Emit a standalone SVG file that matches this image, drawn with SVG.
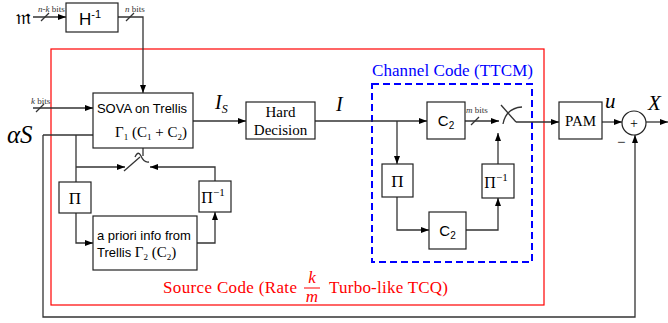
<svg xmlns="http://www.w3.org/2000/svg" width="668" height="323" viewBox="0 0 668 323">
<defs>
<marker id="ah" markerWidth="8" markerHeight="6" refX="8" refY="3" orient="auto" markerUnits="userSpaceOnUse">
<path d="M0,0 L8,3 L0,6 Z" fill="#000"/>
</marker>
<style>
.box{fill:#fff;stroke:#222;stroke-width:1.2}
.ln{fill:none;stroke:#333;stroke-width:1.3}
.a{marker-end:url(#ah)}
.sans{font-family:"Liberation Sans",Arial,sans-serif;fill:#000}
.serif{font-family:"Liberation Serif","Times New Roman",serif;fill:#000}
.it{font-family:"Liberation Serif","Times New Roman",serif;font-style:italic;fill:#000}
.sm{font-family:"Liberation Serif","Times New Roman",serif;font-size:9px;fill:#333}
</style>
</defs>
<rect x="51" y="49" width="493" height="256" fill="none" stroke="#f00" stroke-width="1.2"/>
<rect x="372" y="84" width="160" height="178" fill="none" stroke="#00f" stroke-width="2" stroke-dasharray="7,4"/>
<text x="372" y="76" textLength="161" font-family="Liberation Serif,serif" font-size="17" fill="#00f">Channel Code (TTCM)</text>
<g id="src-label" font-family="Liberation Serif,serif" font-size="17" fill="#f00">
<text x="163" y="293" textLength="134">Source Code (Rate</text>
<text x="312" y="283" font-style="italic" text-anchor="middle">k</text>
<line x1="304" y1="288" x2="320" y2="288" stroke="#f00" stroke-width="1"/>
<text x="312" y="302" font-style="italic" text-anchor="middle">m</text>
<text x="329" y="293" textLength="119">Turbo-like TCQ)</text>
</g>
<g id="connectors">
<line class="ln a" x1="33" y1="17" x2="66" y2="17"/>
<line class="ln" x1="41" y1="21" x2="49" y2="13"/>
<polyline class="ln a" points="118,17 143,17 143,93"/>
<line class="ln" x1="126" y1="21" x2="134" y2="13"/>
<line class="ln a" x1="33" y1="108" x2="93" y2="108"/>
<line class="ln" x1="36" y1="112" x2="44" y2="104"/>
<line class="ln" x1="43" y1="135" x2="93" y2="135"/>
<polyline class="ln a" points="43,135 43,317 635,317 635,135"/>
<line class="ln" x1="76" y1="135" x2="76" y2="182"/>
<line class="ln a" x1="76" y1="167" x2="125" y2="167"/>
<polyline class="ln a" points="76,213 76,243 93,243"/>
<polyline class="ln a" points="197,243 215,243 215,212"/>
<polyline class="ln a" points="215,181 215,167 150,167"/>
<line class="ln" x1="143" y1="148" x2="143" y2="156"/>
<line class="ln" x1="124" y1="171" x2="140" y2="157"/>
<path class="ln" d="M135,157 Q138,150 141,156 Q144,163 149,162" stroke-width="1"/>
<line class="ln a" x1="193" y1="121" x2="246" y2="121"/>
<line class="ln a" x1="315" y1="121" x2="427" y2="121"/>
<line class="ln a" x1="397" y1="121" x2="397" y2="164"/>
<polyline class="ln a" points="397,197 397,230 429,230"/>
<polyline class="ln a" points="466,230 498,230 498,198"/>
<line class="ln a" x1="498" y1="164" x2="498" y2="133"/>
<line class="ln a" x1="465" y1="121" x2="499" y2="121"/>
<line class="ln" x1="471" y1="125" x2="479" y2="117"/>
<line class="ln" x1="501" y1="105" x2="516" y2="122"/>
<path class="ln" d="M503,124 Q506,108 522,107" stroke-width="1"/>
<line class="ln a" x1="516" y1="122" x2="559" y2="122"/>
<line class="ln a" x1="602" y1="122" x2="622" y2="122"/>
<line class="ln a" x1="646" y1="122" x2="668" y2="122"/>
</g>
<g id="m-in"><text x="16" y="24" font-family="DejaVu Serif,DejaVu Sans,serif" font-size="20" fill="#000">𝔪</text></g>
<text class="sm" x="38" y="12"><tspan font-style="italic">n-k</tspan> bits</text>
<text class="sm" x="125" y="12"><tspan font-style="italic">n</tspan> bits</text>
<text class="sm" x="31" y="104"><tspan font-style="italic">k</tspan> bits</text>
<text class="sm" x="466" y="113"><tspan font-style="italic">m</tspan> bits</text>
<g id="hinv"><rect class="box" x="66" y="3" width="52" height="29"/><text class="sans" x="90" y="25" font-size="17" text-anchor="middle">H<tspan font-size="11" dy="-7">-1</tspan></text></g>
<g id="sova"><rect class="box" x="93" y="93" width="100" height="55"/>
<text class="sans" x="142" y="113" font-size="13" text-anchor="middle">SOVA on Trellis</text>
<text class="serif" x="187" y="137" font-size="15" text-anchor="end">Γ<tspan font-size="9" dy="3">1</tspan><tspan dy="-3"> (C</tspan><tspan font-size="9" dy="3">1</tspan><tspan dy="-3"> + C</tspan><tspan font-size="9" dy="3">2</tspan><tspan dy="-3">)</tspan></text></g>
<text class="it" x="7" y="143" font-size="25">αS</text>
<g id="pi-l"><rect class="box" x="59" y="182" width="32" height="31"/><text class="serif" x="75" y="204" font-size="17" text-anchor="middle">Π</text></g>
<g id="piinv-l"><rect class="box" x="199" y="181" width="32" height="31"/><text class="serif" x="213" y="203" font-size="16" text-anchor="middle">Π<tspan font-size="11" dy="-7">−1</tspan></text></g>
<g id="apriori"><rect class="box" x="93" y="216" width="104" height="54"/>
<text class="sans" x="97" y="240" font-size="13">a priori info from</text>
<text class="sans" x="97" y="257" font-size="13">Trellis <tspan class="serif" font-size="15">Γ</tspan><tspan class="serif" font-size="9" dy="3">2</tspan><tspan class="serif" font-size="15" dy="-3"> (C</tspan><tspan class="serif" font-size="9" dy="3">2</tspan><tspan class="serif" font-size="15" dy="-3">)</tspan></text></g>
<text class="it" x="215" y="109" font-size="20">I<tspan font-size="12" dy="4">S</tspan></text>
<g id="hard"><rect class="box" x="246" y="102" width="69" height="37"/>
<text class="serif" x="280.5" y="117" font-size="15" text-anchor="middle">Hard</text>
<text class="serif" x="280.5" y="135" font-size="15" text-anchor="middle">Decision</text></g>
<text class="it" x="336" y="111" font-size="20">I</text>
<g id="c2-top"><rect class="box" x="427" y="102" width="38" height="37"/><text class="sans" x="446" y="126" font-size="15" text-anchor="middle">C<tspan font-size="10" dy="3">2</tspan></text></g>
<g id="pi-r"><rect class="box" x="382" y="164" width="31" height="33"/><text class="serif" x="397.5" y="187" font-size="17" text-anchor="middle">Π</text></g>
<g id="c2-bot"><rect class="box" x="429" y="212" width="37" height="37"/><text class="sans" x="447.5" y="236" font-size="15" text-anchor="middle">C<tspan font-size="10" dy="3">2</tspan></text></g>
<g id="piinv-r"><rect class="box" x="482" y="164" width="32" height="34"/><text class="serif" x="496" y="188" font-size="16" text-anchor="middle">Π<tspan font-size="11" dy="-7">−1</tspan></text></g>
<g id="pam"><rect class="box" x="559" y="102" width="43" height="37"/><text class="serif" x="580.5" y="126" font-size="15" text-anchor="middle">PAM</text></g>
<text class="it" x="605" y="108" font-size="21">u</text>
<g id="sum"><circle cx="634" cy="123" r="12" fill="#fff" stroke="#222" stroke-width="1.2"/><text class="serif" x="634" y="128" font-size="14" text-anchor="middle">+</text></g>
<text class="serif" x="617" y="147" font-size="15">−</text>
<text class="it" x="648" y="110" font-size="21">X</text>
</svg>
